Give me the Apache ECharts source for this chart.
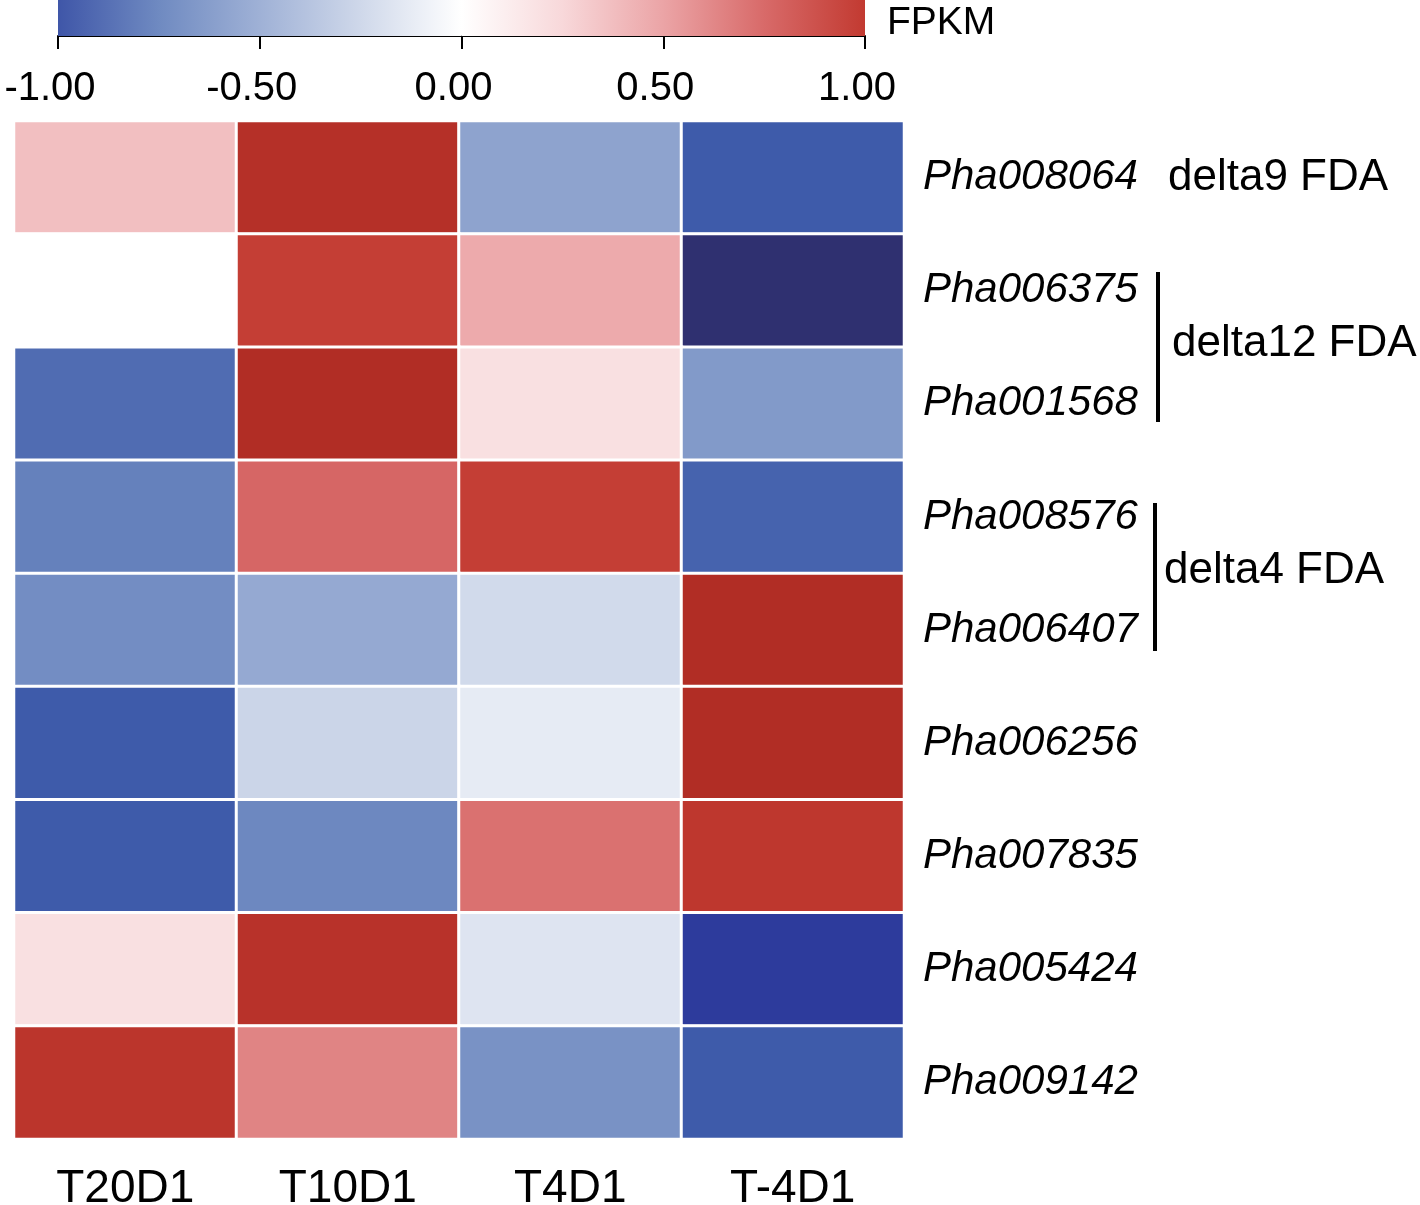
<!DOCTYPE html>
<html>
<head>
  <meta charset="utf-8">
  <title>FDA heatmap</title>
  <script src="https://cdn.jsdelivr.net/npm/echarts@6/dist/echarts.min.js"></script>
  <style>
    html, body { margin: 0; padding: 0; background: #fff; }
  </style>
</head>
<body>
  <div id="container" style="height: 1205px; width: 1420px"></div>
  <script>
    // samples (columns) and genes (rows, top to bottom)
    var samples = ['T20D1', 'T10D1', 'T4D1', 'T-4D1'];
    var genes = ['Pha008064', 'Pha006375', 'Pha001568', 'Pha008576', 'Pha006407',
                 'Pha006256', 'Pha007835', 'Pha005424', 'Pha009142'];
    // scaled FPKM per gene, one value per sample
    var Pha008064 = [0.37, 1.15, -0.59, -1.0];
    var Pha006375 = [0.0, 0.98, 0.47, -1.5];
    var Pha001568 = [-0.91, 1.2, 0.2, -0.65];
    var Pha008576 = [-0.8, 0.77, 0.98, -0.96];
    var Pha006407 = [-0.73, -0.55, -0.24, 1.2];
    var Pha006256 = [-1.0, -0.27, -0.13, 1.2];
    var Pha007835 = [-1.0, -0.76, 0.72, 1.05];
    var Pha005424 = [0.2, 1.12, -0.17, -1.25];
    var Pha009142 = [1.08, 0.64, -0.70, -1.0];
    var rows = [Pha008064, Pha006375, Pha001568, Pha008576, Pha006407,
                Pha006256, Pha007835, Pha005424, Pha009142];
    var scaleTicks = [-1, -0.5, 0, 0.5, 1];

    var cells = [];
    rows.forEach(function (vals, r) {
      vals.forEach(function (v, c) { cells.push([c, r, v]); });
    });

    var font = 'Liberation Sans, Arial, sans-serif';
    var narrow = '"Liberation Sans Narrow", "Arial Narrow", Liberation Sans, sans-serif';

    var chart = echarts.init(document.getElementById('container'));
    var option = {
      backgroundColor: '#fff',
      animation: false,
      grid: [
        { left: 14, top: 121, width: 890, height: 1018, outerBoundsMode: 'none', containLabel: false },
        { left: 58, top: 0, width: 807, height: 36, outerBoundsMode: 'none', containLabel: false }
      ],
      xAxis: [
        {
          type: 'category', gridIndex: 0, data: samples, position: 'bottom',
          axisLine: { show: false }, axisTick: { show: false }, splitLine: { show: false },
          axisLabel: { interval: 0, margin: 27, fontSize: 46, color: '#000', fontFamily: font }
        },
        {
          type: 'value', gridIndex: 1, min: -1, max: 1, interval: 0.5,
          axisLine: { show: true, onZero: false, lineStyle: { color: '#000', width: 2 } },
          axisTick: { show: true, length: 13, lineStyle: { color: '#000', width: 2 } },
          splitLine: { show: false },
          axisLabel: {
            margin: 33, fontSize: 40, color: '#000', fontFamily: narrow,
            padding: [0, 16, 0, 0],
            formatter: function (v) { return v.toFixed(2); }
          }
        }
      ],
      yAxis: [
        {
          type: 'category', gridIndex: 0, data: genes, inverse: true, position: 'right',
          axisLine: { show: false }, axisTick: { show: false }, splitLine: { show: false },
          axisLabel: { interval: 0, margin: 19, fontSize: 42, fontStyle: 'italic', color: '#000', fontFamily: font, align: 'left' }
        },
        { type: 'category', gridIndex: 1, data: ['FPKM'], show: false }
      ],
      visualMap: {
        type: 'continuous', show: false, seriesIndex: 0, dimension: 2,
        min: -1.5, max: 1.5,
        inRange: {
          color: ['#2F3070', '#2D3B9C', '#3E5BAA', '#6F8AC1', '#9FB1D6', '#CFD8EA', '#FFFFFF',
                  '#F8D8DA', '#EBA4A6', '#D86A69', '#C23A31', '#AD2A22', '#A02420']
        }
      },
      series: [
        {
          type: 'heatmap', xAxisIndex: 0, yAxisIndex: 0, data: cells,
          itemStyle: { borderColor: '#fff', borderWidth: 3 }
        },
        {
          type: 'bar', xAxisIndex: 1, yAxisIndex: 1, data: [scaleTicks[0]],
          barWidth: '100%', barGap: '-100%', silent: true,
          itemStyle: {
            color: new echarts.graphic.LinearGradient(0, 0, 1, 0, [
              { offset: 0, color: '#3F56A8' }, { offset: 0.25, color: '#6F8AC1' },
              { offset: 0.5, color: '#9FB1D6' }, { offset: 0.75, color: '#CFD8EA' },
              { offset: 1, color: '#FFFFFF' }
            ])
          }
        },
        {
          type: 'bar', xAxisIndex: 1, yAxisIndex: 1, data: [scaleTicks[4]],
          barWidth: '100%', barGap: '-100%', silent: true,
          itemStyle: {
            color: new echarts.graphic.LinearGradient(0, 0, 1, 0, [
              { offset: 0, color: '#FFFFFF' }, { offset: 0.25, color: '#F8D8DA' },
              { offset: 0.5, color: '#EBA4A6' }, { offset: 0.75, color: '#D86A69' },
              { offset: 1, color: '#C23A31' }
            ])
          }
        }
      ],
      graphic: [
        { type: 'text', left: 887, top: 4, style: { text: 'FPKM', fontSize: 39, fontFamily: narrow, fill: '#000' } },
        { type: 'text', left: 1168, top: 156, style: { text: 'delta9 FDA', fontSize: 44, fontFamily: font, fill: '#000' } },
        { type: 'rect', left: 1156, top: 272, shape: { width: 4, height: 150 }, style: { fill: '#000' } },
        { type: 'text', left: 1172, top: 322, style: { text: 'delta12 FDA', fontSize: 44, fontFamily: font, fill: '#000' } },
        { type: 'rect', left: 1153, top: 503, shape: { width: 4, height: 148 }, style: { fill: '#000' } },
        { type: 'text', left: 1164, top: 549, style: { text: 'delta4 FDA', fontSize: 44, fontFamily: font, fill: '#000' } }
      ]
    };
    chart.setOption(option);
    window.addEventListener('resize', chart.resize);
  </script>
</body>
</html>
